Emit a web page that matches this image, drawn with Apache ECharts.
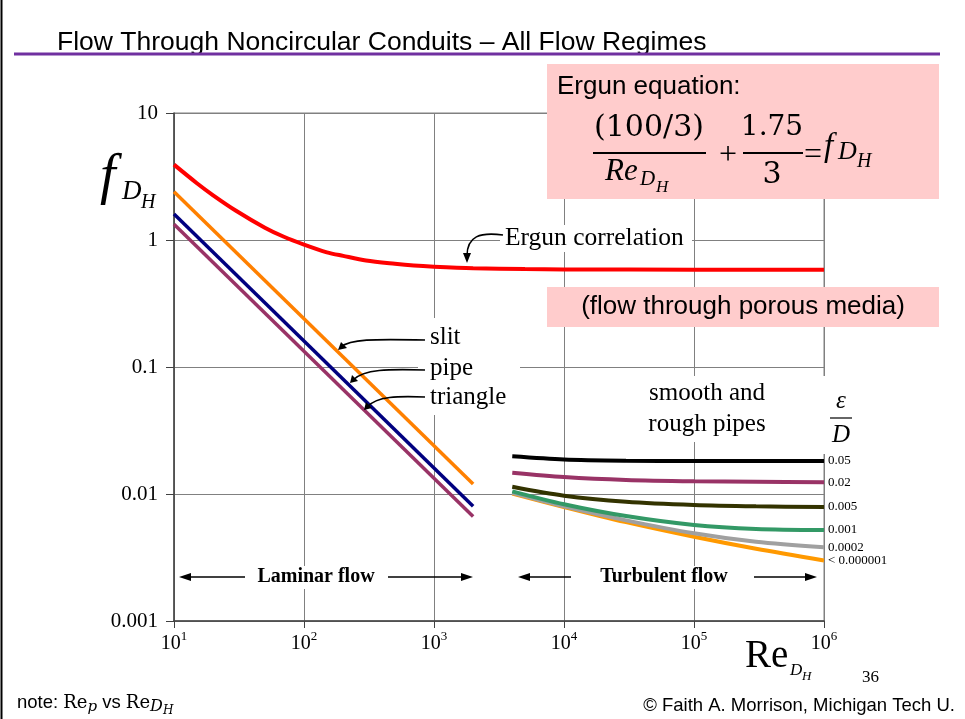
<!DOCTYPE html>
<html><head><meta charset="utf-8">
<script src="https://cdn.jsdelivr.net/npm/echarts@6/dist/echarts.min.js"></script>
<style>html,body{margin:0;padding:0;background:#fff}#c{width:965px;height:719px}</style>
</head><body><div id="c"></div>
<script>
// ---- tick labels ----
const xTickExponents = [1, 2, 3, 4, 5, 6];
const yTickLabels = ['0.001', '0.01', '0.1', '1', '10'];

// ---- Ergun correlation (porous media) ----
const ergunRe = [10, 15, 20, 30, 50, 70, 100, 150, 200, 300, 500, 700, 1000, 2000, 5000, 10000, 100000, 1000000];
const ergunF  = [3.92, 2.80, 2.25, 1.70, 1.25, 1.06, 0.92, 0.80, 0.75, 0.69, 0.65, 0.63, 0.617, 0.60, 0.59, 0.587, 0.584, 0.583];

// ---- laminar lines ----
const laminarRe = [10, 2000];
const slitF     = [2.4, 0.012];
const pipeF     = [1.6, 0.008];
const triangleF = [1.33, 0.00665];

// ---- turbulent lines ----
const turbRe   = [4000, 10000, 30000, 100000, 300000, 1000000];
const fSmooth  = [0.0101, 0.0079, 0.0060, 0.0046, 0.0037, 0.0030];
const f0002    = [0.0102, 0.0080, 0.0062, 0.0049, 0.0042, 0.0038];
const f001     = [0.0105, 0.0083, 0.0067, 0.0057, 0.0053, 0.0052];
const f005     = [0.0114, 0.0097, 0.0087, 0.0082, 0.0080, 0.0079];
const f02      = [0.0147, 0.0136, 0.0129, 0.0126, 0.0125, 0.0124];
const f05      = [0.0198, 0.0187, 0.0183, 0.0182, 0.0182, 0.0182];
const roughLabels = ['< 0.000001', '0.0002', '0.001', '0.005', '0.02', '0.05'];

const SERIF = '"Liberation Serif"';
const SANS = '"Liberation Sans"';
const MATH = '"DejaVu Serif"';

const zip = (a, b) => a.map((v, i) => [v, b[i]]);

const mctx = document.createElement('canvas').getContext('2d');
function tw(font, t) { mctx.font = font; return mctx.measureText(t).width; }
function seq(x, y, parts, z) {
  const els = []; let cx = x;
  parts.forEach(p => {
    cx += (p[3] || 0);
    els.push({ type: 'text', z: z || 10, style: { text: p[0], x: cx, y: y + (p[2] || 0), font: p[1], fill: '#000', textVerticalAlign: 'middle' } });
    cx += tw(p[1], p[0]);
  });
  return els;
}
function txt(t, x, y, font, align, extra) {
  return { type: 'text', z: 10, style: Object.assign({ text: t, x: x, y: y, font: font, fill: '#000', textAlign: align || 'left', textVerticalAlign: 'middle' }, extra || {}) };
}
function rect(x, y, w, h, fill, z) { return { type: 'rect', z: z, shape: { x: x, y: y, width: w, height: h }, style: { fill: fill } }; }
function line(x1, y1, x2, y2, w, c) { return { type: 'line', z: 10, shape: { x1: x1, y1: y1, x2: x2, y2: y2 }, style: { stroke: c || '#000', lineWidth: w } }; }
function tri(pts) { return { type: 'polygon', z: 10, shape: { points: pts }, style: { fill: '#000' } }; }
function bez(x1, y1, c1x, c1y, c2x, c2y, x2, y2) {
  return { type: 'bezierCurve', z: 10, shape: { x1: x1, y1: y1, cpx1: c1x, cpy1: c1y, cpx2: c2x, cpy2: c2y, x2: x2, y2: y2 }, style: { stroke: '#000', lineWidth: 1.6, fill: null } };
}

const chart = echarts.init(document.getElementById('c'), null, { renderer: 'canvas', width: 965, height: 719 });

function lineSeries(name, data, color, width, endLabel) {
  const s = { name: name, type: 'line', data: data, showSymbol: false, symbol: 'none', smooth: 0.3,
    lineStyle: { color: color, width: width }, z: 3, silent: true };
  if (endLabel) s.endLabel = { show: true, formatter: endLabel, color: '#000', fontFamily: SERIF, fontSize: 13, distance: 4 };
  return s;
}

const turbData = [fSmooth, f0002, f001, f005, f02, f05];
const turbColors = ['#FF9900', '#A0A0A0', '#339966', '#333300', '#993366', '#000000'];

const series = [
  lineSeries('Ergun correlation', zip(ergunRe, ergunF), '#FF0000', 4),
  lineSeries('slit', zip(laminarRe, slitF), '#FF8000', 3.5),
  lineSeries('pipe', zip(laminarRe, pipeF), '#000080', 3.5),
  lineSeries('triangle', zip(laminarRe, triangleF), '#993366', 3.5)
];
turbData.forEach((d, i) => series.push(lineSeries('e/D ' + roughLabels[i], zip(turbRe, d), turbColors[i], 4, roughLabels[i])));

const graphics = [
  // slide frame & title
  line(1.5, 0, 1.5, 719, 2, '#000'),
  txt('Flow Through Noncircular Conduits \u2013 All Flow Regimes', 57, 43, '26.5px ' + SANS),
  line(14, 54, 940, 54, 3, '#7030A0'),
  // white backgrounds hiding gridlines behind annotations
  rect(418, 318, 102, 97, '#fff', 1),
  rect(500, 225, 192, 27, '#fff', 1),
  rect(640, 376, 136, 66, '#fff', 1),
  rect(823, 376, 38, 78, '#fff', 1),
  rect(254, 566, 126, 23, '#fff', 1),
  rect(596, 566, 136, 23, '#fff', 1),
  // pink boxes
  rect(547, 64, 392, 135, '#FFCCCC', 5),
  rect(547, 287, 392, 40, '#FFCCCC', 5),
  txt('Ergun equation:', 557, 87, '26px ' + SANS),
  txt('(100/3)', 649, 128, '30px ' + MATH, 'center'),
  line(593, 153, 706, 153, 2, '#000'),
  txt('+', 728, 156, '32px ' + SERIF, 'center'),
  txt('1.75', 772, 128, '28px ' + MATH, 'center'),
  line(743, 153, 803, 153, 2, '#000'),
  txt('3', 772, 175, '30px ' + MATH, 'center'),
  txt('=', 813, 156, '32px ' + SERIF, 'center'),
  txt('(flow through porous media)', 743, 307, '26px ' + SANS, 'center'),
  // annotations
  txt('Ergun correlation', 505, 238, '25.5px ' + SERIF),
  bez(503, 235, 480, 232, 467, 236, 467, 256), tri([[467, 263], [463, 253], [471, 253]]),
  txt('slit', 430, 337, '25px ' + SERIF),
  bez(425, 340, 372, 339, 350, 339, 341, 347), tri([[338, 350], [341, 342], [347, 348]]),
  txt('pipe', 430, 368, '25px ' + SERIF),
  bez(425, 370, 388, 369, 364, 369, 353, 380), tri([[350, 383], [352, 375], [358, 381]]),
  txt('triangle', 430, 397, '25px ' + SERIF),
  bez(425, 397, 398, 396, 377, 396, 367, 407), tri([[364, 410], [366, 402], [372, 408]]),
  txt('smooth and', 707, 393, '25px ' + SERIF, 'center'),
  txt('rough pipes', 707, 424, '25px ' + SERIF, 'center'),
  txt('\u03B5', 841, 401, 'italic 25px ' + SERIF, 'center'),
  line(830, 418, 852, 418, 1.2, '#000'),
  txt('D', 841, 435, 'italic 25px ' + SERIF, 'center'),
  // flow regime arrows
  txt('Laminar flow', 316, 577, 'bold 20px ' + SERIF, 'center'),
  line(188, 577, 245, 577, 1.5), tri([[179, 577], [191, 573], [191, 581]]),
  line(388, 577, 464, 577, 1.5), tri([[473, 577], [461, 573], [461, 581]]),
  txt('Turbulent flow', 664, 577, 'bold 20px ' + SERIF, 'center'),
  line(527, 577, 571, 577, 1.5), tri([[518, 577], [530, 573], [530, 581]]),
  line(754, 577, 808, 577, 1.5), tri([[817, 577], [805, 573], [805, 581]]),
  // footer
  txt('36', 862, 678, '17px ' + SERIF),
  txt('\u00A9 Faith A. Morrison, Michigan Tech U.', 955, 706, '18.5px ' + SANS, 'right'),
  // f_{D_H} on the right side of the Ergun equation
  txt('f', 824, 147, 'italic 33px ' + SERIF),
  txt('D', 838, 152, 'italic 26px ' + SERIF),
  txt('H', 857, 162, 'italic 20px ' + SERIF),
  // Re_{D_H} denominator
  txt('Re', 605, 172, 'italic 31px ' + SERIF),
  txt('D', 640, 179, 'italic 21px ' + SERIF),
  txt('H', 656, 188, 'italic 17px ' + SERIF),
  // y axis name
  txt('f', 100, 178, 'italic 56px ' + SERIF),
  txt('D', 122, 192, 'italic 27px ' + SERIF),
  txt('H', 141, 203, 'italic 20px ' + SERIF),
  // x axis name
  txt('Re', 745, 657, '39px ' + SERIF),
  txt('D', 790, 671, 'italic 17px ' + SERIF),
  txt('H', 802, 677, 'italic 13px ' + SERIF)
];
// note
seq(17, 703, [['note: ', '18.5px ' + SANS], ['Re', '18px ' + MATH], ['p', 'italic 15px ' + MATH, 4], [' vs ', '18.5px ' + SANS], ['Re', '18px ' + MATH], ['D', 'italic 16px ' + MATH, 4], ['H', 'italic 12px ' + MATH, 8]]).forEach(e => graphics.push(e));

chart.setOption({
  animation: false,
  backgroundColor: '#fff',
  grid: { left: 174, top: 113, width: 650, height: 508, show: true, borderColor: '#808080', borderWidth: 1, backgroundColor: 'transparent' },
  xAxis: {
    type: 'log', logBase: 10, min: 10, max: 1000000, splitNumber: 5,
    axisLine: { show: true, lineStyle: { color: '#404040', width: 1.5 } },
    axisTick: { show: true, length: 7, inside: false, lineStyle: { color: '#404040' } },
    minorTick: { show: false },
    splitLine: { show: true, lineStyle: { color: '#808080', width: 1 } },
    axisLabel: {
      margin: 9,
      formatter: v => { const e = Math.round(Math.log10(v)); return xTickExponents.indexOf(e) >= 0 ? '{b|10}{s|' + e + '}' : ''; },
      rich: {
        b: { fontFamily: SERIF, fontSize: 20, color: '#000', lineHeight: 24, verticalAlign: 'bottom' },
        s: { fontFamily: SERIF, fontSize: 13, color: '#000', lineHeight: 24, verticalAlign: 'top' }
      }
    }
  },
  yAxis: {
    type: 'log', logBase: 10, min: 0.001, max: 10, splitNumber: 4,
    axisLine: { show: true, lineStyle: { color: '#404040', width: 1.5 } },
    axisTick: { show: true, length: 8, inside: false, lineStyle: { color: '#404040' } },
    minorTick: { show: false },
    splitLine: { show: true, lineStyle: { color: '#808080', width: 1 } },
    axisLabel: {
      margin: 16, color: '#000', fontFamily: SERIF, fontSize: 21,
      formatter: v => yTickLabels[Math.round(Math.log10(v)) + 3] || ''
    }
  },
  series: series,
  graphic: { elements: graphics }
});
</script>
</body></html>
